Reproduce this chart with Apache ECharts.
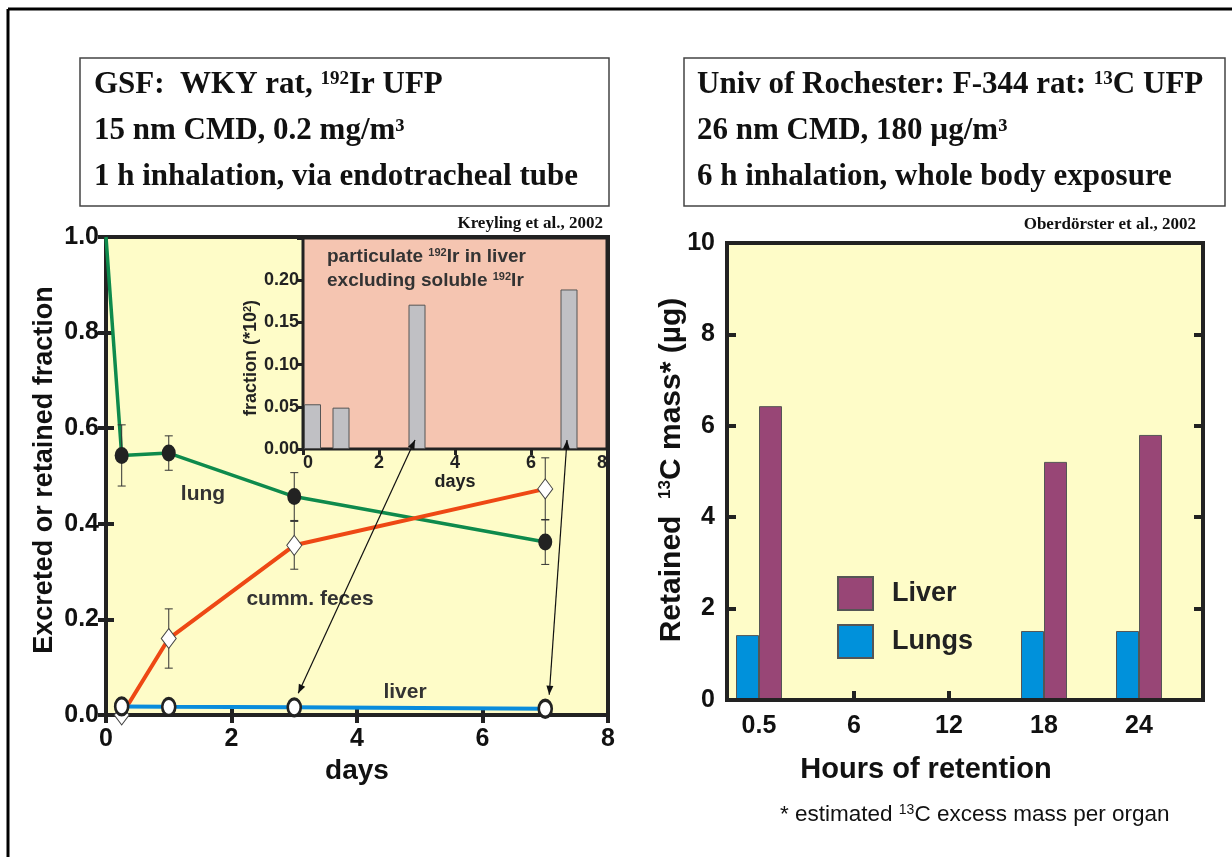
<!DOCTYPE html>
<html><head><meta charset="utf-8">
<script src="https://cdn.jsdelivr.net/npm/echarts@6/dist/echarts.min.js"></script>
<style>html,body{margin:0;padding:0;background:#fff}#c{width:1232px;height:857px}</style>
</head><body><div id="c"></div>
<script>
// ---------- data ----------
const lungDays = [0, 0.25, 1, 3, 7];
const lungFrac = [1.0, 0.543, 0.548, 0.457, 0.362];
const lungErr = [null, 0.064, 0.036, 0.05, 0.047];
const fecesDays = [0.25, 1, 3, 7];
const fecesFrac = [0.0, 0.16, 0.355, 0.473];
const fecesErr = [null, 0.062, 0.05, 0.065];
const liverDays = [0.25, 1, 3, 7];
const liverFrac = [0.018, 0.017, 0.016, 0.013];
const insetDays = [0.25, 1, 3, 7];
const insetFrac = [0.053, 0.049, 0.171, 0.189];
const arrowDays = [3, 7];
const hourCats = ['0.5', '6', '12', '18', '24'];
const lungsMass = [1.42, null, null, 1.51, 1.51];
const liverMass = [6.43, null, null, 5.21, 5.80];

// ---------- style ----------
const SANS = '"Liberation Sans", Arial, sans-serif';
const SERIF = '"Liberation Serif", "Times New Roman", serif';
const YEL = '#FEFCC8';
const INK = '#222';
const GREEN = '#0E8A4C', ORANGE = '#EE4814', BLUE = '#0A8CDC';

const chart = echarts.init(document.getElementById('c'), null, {renderer: 'canvas'});

const pts = (xs, ys) => xs.map((x, i) => [x, ys[i]]);
const errData = [];
lungDays.forEach((d, i) => { if (lungErr[i] != null) errData.push([d, lungFrac[i] - lungErr[i], lungFrac[i] + lungErr[i]]); });
fecesDays.forEach((d, i) => { if (fecesErr[i] != null) errData.push([d, fecesFrac[i] - fecesErr[i], fecesFrac[i] + fecesErr[i]]); });

function renderErr(params, api) {
  const x = api.value(0);
  const p1 = api.coord([x, api.value(1)]), p2 = api.coord([x, api.value(2)]);
  const w = 4, st = {stroke: '#333', lineWidth: 1};
  return {type: 'group', children: [
    {type: 'line', shape: {x1: p1[0], y1: p1[1], x2: p2[0], y2: p2[1]}, style: st},
    {type: 'line', shape: {x1: p1[0] - w, y1: p1[1], x2: p1[0] + w, y2: p1[1]}, style: st},
    {type: 'line', shape: {x1: p2[0] - w, y1: p2[1], x2: p2[0] + w, y2: p2[1]}, style: st}
  ]};
}

const tickIn = (len, w) => ({show: true, inside: true, length: len, lineStyle: {color: INK, width: w}});
const bigLab = {color: '#111', fontFamily: SANS, fontWeight: 'bold', fontSize: 25};
const smallLab = {color: '#222', fontFamily: SANS, fontWeight: 'bold', fontSize: 18};

const option = {
  animation: false,
  backgroundColor: '#fff',
  grid: [
    {left: 106, top: 237, width: 502, height: 478, show: true, backgroundColor: YEL, borderColor: INK, borderWidth: 4, z: 0},
    {left: 303, top: 238, width: 304, height: 211, show: true, backgroundColor: '#F5C5B1', borderColor: INK, borderWidth: 3, z: 8},
    {left: 727, top: 243, width: 476, height: 457, show: true, backgroundColor: YEL, borderColor: INK, borderWidth: 4, z: 0},
    {left: 711.5, top: 243, width: 475, height: 457, show: false}
  ],
  xAxis: [
    {gridIndex: 0, type: 'value', min: 0, max: 8, interval: 2, z: 1,
     axisLine: {show: false}, axisTick: tickIn(8, 4), splitLine: {show: false},
     axisLabel: Object.assign({margin: 12}, bigLab),
     name: 'days', nameLocation: 'middle', nameGap: 39,
     nameTextStyle: {color: '#111', fontFamily: SANS, fontWeight: 'bold', fontSize: 28}},
    {gridIndex: 0, type: 'value', position: 'top', min: 0, max: 8, interval: 2, z: 1,
     axisLine: {show: false}, axisTick: tickIn(8, 4), splitLine: {show: false}, axisLabel: {show: false}},
    {gridIndex: 1, type: 'value', min: 0, max: 8, interval: 2, z: 9,
     axisLine: {show: false}, axisTick: {show: false}, splitLine: {show: false},
     axisLabel: Object.assign({margin: 5, alignMinLabel: 'left', alignMaxLabel: 'right'}, smallLab),
     name: 'days', nameLocation: 'middle', nameGap: 20,
     nameTextStyle: {color: '#222', fontFamily: SANS, fontWeight: 'bold', fontSize: 18}},
    {gridIndex: 1, type: 'value', position: 'top', min: 0, max: 8, interval: 2, z: 9,
     axisLine: {show: false}, axisTick: tickIn(6, 3), splitLine: {show: false}, axisLabel: {show: false}},
    {gridIndex: 2, type: 'value', min: 0, max: 1, z: 3,
     axisLine: {show: true, lineStyle: {color: INK, width: 4}}, axisTick: {show: false},
     splitLine: {show: false}, axisLabel: {show: false}},
    {gridIndex: 3, type: 'category', data: hourCats, z: 1,
     axisLine: {show: false}, axisTick: Object.assign({alignWithLabel: true}, tickIn(9, 4)),
     splitLine: {show: false}, axisLabel: Object.assign({margin: 14}, bigLab)}
  ],
  yAxis: [
    {gridIndex: 0, type: 'value', min: 0, max: 1, interval: 0.2, z: 1,
     axisLine: {show: false}, axisTick: tickIn(8, 4), splitLine: {show: false},
     axisLabel: Object.assign({margin: 7, formatter: v => v.toFixed(1)}, bigLab)},
    {gridIndex: 0, type: 'value', position: 'right', min: 0, max: 1, interval: 0.2, z: 1,
     axisLine: {show: false}, axisTick: tickIn(8, 4), splitLine: {show: false}, axisLabel: {show: false}},
    {gridIndex: 1, type: 'value', min: 0, max: 0.25, interval: 0.05, z: 9,
     axisLine: {show: false}, axisTick: {show: false}, splitLine: {show: false},
     axisLabel: Object.assign({margin: 4, showMaxLabel: false, formatter: v => v.toFixed(2)}, smallLab)},
    {gridIndex: 1, type: 'value', position: 'right', min: 0, max: 0.25, interval: 0.05, z: 9,
     axisLine: {show: false}, axisTick: tickIn(6, 3), splitLine: {show: false}, axisLabel: {show: false}},
    {gridIndex: 2, type: 'value', min: 0, max: 10, interval: 2, z: 1,
     axisLine: {show: false}, axisTick: tickIn(9, 4), splitLine: {show: false},
     axisLabel: Object.assign({margin: 12}, bigLab)},
    {gridIndex: 2, type: 'value', position: 'right', min: 0, max: 10, interval: 2, z: 1,
     axisLine: {show: false}, axisTick: tickIn(9, 4), splitLine: {show: false}, axisLabel: {show: false}},
    {gridIndex: 3, type: 'value', min: 0, max: 10, show: false}
  ],
  legend: {
    data: ['Liver', 'Lungs'], orient: 'vertical', left: 837, top: 576, padding: 0,
    itemWidth: 35, itemHeight: 33, itemGap: 13, icon: 'rect', selectedMode: false,
    textStyle: {color: '#222', fontFamily: SANS, fontWeight: 'bold', fontSize: 27, padding: [0, 0, 0, 14]}
  },
  series: [
    {type: 'line', name: 'lung', xAxisIndex: 0, yAxisIndex: 0, data: pts(lungDays, lungFrac),
     showSymbol: false, lineStyle: {color: GREEN, width: 3.5}, z: 3},
    {type: 'line', name: 'cumm. feces', xAxisIndex: 0, yAxisIndex: 0, data: pts(fecesDays, fecesFrac),
     showSymbol: false, lineStyle: {color: ORANGE, width: 4}, z: 3},
    {type: 'line', name: 'liver', xAxisIndex: 0, yAxisIndex: 0, data: pts(liverDays, liverFrac),
     showSymbol: false, lineStyle: {color: BLUE, width: 4}, z: 3},
    {type: 'custom', xAxisIndex: 0, yAxisIndex: 0, data: errData, renderItem: renderErr,
     encode: {x: 0, y: [1, 2]}, z: 4, clip: false},
    {type: 'scatter', xAxisIndex: 0, yAxisIndex: 0, data: pts(lungDays.slice(1), lungFrac.slice(1)),
     symbol: 'circle', symbolSize: [14, 17], itemStyle: {color: '#222', opacity: 1}, z: 5},
    {type: 'scatter', xAxisIndex: 0, yAxisIndex: 0, data: pts(fecesDays, fecesFrac),
     symbol: 'diamond', symbolSize: [15, 20], itemStyle: {color: '#fff', borderColor: '#444', borderWidth: 1, opacity: 1}, z: 5, clip: false},
    {type: 'scatter', xAxisIndex: 0, yAxisIndex: 0, data: pts(liverDays, liverFrac),
     symbol: 'circle', symbolSize: [13, 17], itemStyle: {color: '#fff', borderColor: '#222', borderWidth: 3, opacity: 1}, z: 6, clip: false},
    {type: 'bar', xAxisIndex: 2, yAxisIndex: 2, data: pts(insetDays, insetFrac), barWidth: 17,
     itemStyle: {color: '#C0C0C4', borderColor: '#555', borderWidth: 1}, z: 10},
    {type: 'bar', name: 'Lungs', xAxisIndex: 5, yAxisIndex: 6, data: lungsMass, barWidth: 23, barGap: '0%',
     itemStyle: {color: '#0091DB', borderColor: '#555', borderWidth: 1}, z: 2},
    {type: 'bar', name: 'Liver', xAxisIndex: 5, yAxisIndex: 6, data: liverMass, barWidth: 23, barGap: '0%',
     itemStyle: {color: '#984676', borderColor: '#555', borderWidth: 1}, z: 2}
  ]
};
chart.setOption(option);

// ---------- annotations ----------
const g = [];
const txt = (x, y, text, font, extra) => g.push(Object.assign({type: 'text', z: 30,
  style: Object.assign({x: x, y: y, text: text, font: font, fill: '#111', align: 'left', verticalAlign: 'middle'}, extra || {})}));

// outer frame
g.push({type: 'line', z: 30, shape: {x1: 8, y1: 9, x2: 1232, y2: 9}, style: {stroke: '#000', lineWidth: 3}});
g.push({type: 'line', z: 30, shape: {x1: 8, y1: 9, x2: 8, y2: 857}, style: {stroke: '#000', lineWidth: 3}});

// title boxes
g.push({type: 'rect', z: 29, shape: {x: 80, y: 58, width: 529, height: 148}, style: {fill: '#fff', stroke: '#444', lineWidth: 1.5}});
g.push({type: 'rect', z: 29, shape: {x: 684, y: 58, width: 541, height: 148}, style: {fill: '#fff', stroke: '#444', lineWidth: 1.5}});
const tRich = {
  b: {fontFamily: SERIF, fontWeight: 'bold', fontSize: 31, fill: '#111'},
  s: {fontFamily: SERIF, fontWeight: 'bold', fontSize: 19, fill: '#111', verticalAlign: 'top'}
};
txt(94, 85, '{b|GSF:  WKY rat, }{s|192}{b|Ir UFP}', '', {rich: tRich});
txt(94, 131, '{b|15 nm CMD, 0.2 mg/m³}', '', {rich: tRich});
txt(94, 177, '{b|1 h inhalation, via endotracheal tube}', '', {rich: tRich});
txt(697, 85, '{b|Univ of Rochester: F-344 rat: }{s|13}{b|C UFP}', '', {rich: tRich});
txt(697, 131, '{b|26 nm CMD, 180 µg/m³}', '', {rich: tRich});
txt(697, 177, '{b|6 h inhalation, whole body exposure}', '', {rich: tRich});

// citations
txt(603, 224, 'Kreyling et al., 2002', 'bold 17px ' + SERIF, {align: 'right'});
txt(1196, 225, 'Oberdörster et al., 2002', 'bold 17px ' + SERIF, {align: 'right'});

// series labels in main chart
const lab = 'bold 21px ' + SANS;
txt(203, 494, 'lung', lab, {align: 'center', fill: '#333'});
txt(310, 599, 'cumm. feces', lab, {align: 'center', fill: '#333'});
txt(405, 692, 'liver', lab, {align: 'center', fill: '#333'});

// inset title
const iRich = {
  a: {fontFamily: SANS, fontWeight: 'bold', fontSize: 19, fill: '#333'},
  s: {fontFamily: SANS, fontWeight: 'bold', fontSize: 11, fill: '#333', verticalAlign: 'top'}
};
txt(327, 257, '{a|particulate }{s|192}{a|Ir in liver}', '', {rich: iRich});
txt(327, 281, '{a|excluding soluble }{s|192}{a|Ir}', '', {rich: iRich});

// rotated axis names
const rot = (x, y, text, font, rich) => g.push({type: 'text', z: 30, x: x, y: y, rotation: Math.PI / 2,
  style: {x: 0, y: 0, text: text, font: font, fill: '#111', align: 'center', verticalAlign: 'middle', rich: rich}});
rot(45, 470, 'Excreted or retained fraction', 'bold 27px ' + SANS);
rot(251, 358, '{a|fraction (*10}{s|2}{a|)}', '', {
  a: {fontFamily: SANS, fontWeight: 'bold', fontSize: 18, fill: '#222'},
  s: {fontFamily: SANS, fontWeight: 'bold', fontSize: 11, fill: '#222', verticalAlign: 'top'}
});
rot(672, 470, '{a|Retained  }{s|13}{a|C mass* (µg)}', '', {
  a: {fontFamily: SANS, fontWeight: 'bold', fontSize: 30, fill: '#111'},
  s: {fontFamily: SANS, fontWeight: 'bold', fontSize: 17, fill: '#111', verticalAlign: 'top'}
});

// right x title & footnote
txt(926, 770, 'Hours of retention', 'bold 29px ' + SANS, {align: 'center'});
txt(780, 815, '{a|* estimated }{s|13}{a|C excess mass per organ}', '', {rich: {
  a: {fontFamily: SANS, fontSize: 22.5, fill: '#111'},
  s: {fontFamily: SANS, fontSize: 14, fill: '#111', verticalAlign: 'top'}
}});

// arrows from inset bars to liver points
function head(x, y, fx, fy) {
  const dx = x - fx, dy = y - fy, L = Math.hypot(dx, dy), ux = dx / L, uy = dy / L;
  const len = 9, hw = 3.5;
  const bx = x - ux * len, by = y - uy * len;
  return {type: 'polygon', z: 31, shape: {points: [[x, y], [bx - uy * hw, by + ux * hw], [bx + uy * hw, by - ux * hw]]}, style: {fill: '#111'}};
}
arrowDays.forEach(d => {
  const i = liverDays.indexOf(d);
  const top = chart.convertToPixel({xAxisIndex: 2, yAxisIndex: 2}, [d, 0]);
  const bot = chart.convertToPixel({xAxisIndex: 0, yAxisIndex: 0}, [d, liverFrac[i]]);
  const x1 = top[0] - 2, y1 = top[1] - 9, x2 = bot[0] + 4, y2 = bot[1] - 14;
  g.push({type: 'line', z: 31, shape: {x1: x1, y1: y1, x2: x2, y2: y2}, style: {stroke: '#111', lineWidth: 1.2}});
  g.push(head(x1, y1, x2, y2));
  g.push(head(x2, y2, x1, y1));
});

chart.setOption({graphic: g});
</script>
</body></html>
